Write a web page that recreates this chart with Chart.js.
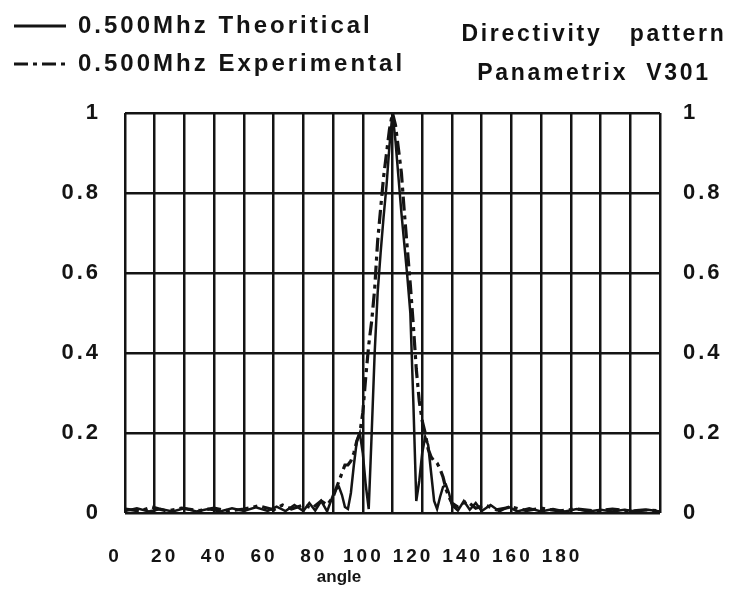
<!DOCTYPE html>
<html>
<head>
<meta charset="utf-8">
<title>Directivity pattern</title>
<script src="https://cdn.jsdelivr.net/npm/chart.js@4.4.1/dist/chart.umd.min.js"></script>
<style>
html, body { margin: 0; padding: 0; background: #fff; }
#wrap { position: relative; width: 732px; height: 596px; }
#heading {
	position: absolute; left: 455px; top: 14px; width: 278px;
	text-align: center; white-space: pre; color: #111;
	font: bold 23px "Liberation Sans", Arial, sans-serif;
	letter-spacing: 2.7px; line-height: 39px;
}
</style>
</head>
<body>
<div id="wrap">
	<canvas id="directivityChart" width="732" height="596"></canvas>
	<div id="heading">Directivity   pattern
Panametrix  V301</div>
</div>
<script>
var angleTicks = [0, 20, 40, 60, 80, 100, 120, 140, 160, 180];
var levelTicks = [0, 0.2, 0.4, 0.6, 0.8, 1];

// 0.500Mhz Theoritical (solid)
var theoAngles = [0, 4, 8, 12, 16, 20, 24, 28, 32, 36, 40, 44, 48, 51, 54, 57, 60, 62, 64, 66, 68,
	70, 71, 72, 73, 74, 75, 76, 77, 78, 79, 80, 81, 82, 83, 84, 85, 86, 87, 88, 89,
	90, 91, 92, 93, 94, 95, 96, 97, 98, 99, 100, 101, 102, 103, 104, 105, 106, 107, 108, 109, 110,
	112, 114, 116, 118, 120, 123, 126, 129, 132, 136, 140, 144, 148, 152, 156, 160, 164, 168, 172, 176, 180];
var theoValues = [0.005, 0.012, 0.004, 0.01, 0.004, 0.012, 0.004, 0.01, 0.004, 0.012, 0.005, 0.014, 0.005, 0.016, 0.005, 0.02, 0.005, 0.025, 0.006, 0.03, 0.004,
	0.045, 0.06, 0.065, 0.045, 0.015, 0.01, 0.05, 0.12, 0.18, 0.2, 0.15, 0.07, 0.01, 0.2, 0.4, 0.55, 0.65, 0.74, 0.82, 0.92,
	1.0, 0.93, 0.84, 0.75, 0.67, 0.59, 0.5, 0.28, 0.03, 0.08, 0.15, 0.19, 0.17, 0.1, 0.03, 0.01, 0.04, 0.065, 0.07, 0.05, 0.02,
	0.006, 0.03, 0.008, 0.025, 0.005, 0.02, 0.004, 0.015, 0.004, 0.012, 0.004, 0.01, 0.004, 0.01, 0.004, 0.008, 0.004, 0.008, 0.004, 0.008, 0.004];

// 0.500Mhz Experimental (dash dot)
var expAngles = [0, 5, 9, 14, 19, 25, 30, 35, 40, 45, 50, 53, 56, 60, 63, 66, 68,
	70, 71, 72, 73, 74, 75, 76, 77, 78, 79, 80, 81, 82, 83, 84, 85, 86, 87, 88, 89,
	90, 91, 92, 93, 94, 95, 96, 97, 98, 99, 100, 101, 102, 103, 104, 105, 106, 107, 108, 109, 110,
	112, 115, 118, 121, 125, 130, 135, 140, 146, 152, 158, 164, 170, 175, 180];
var expValues = [0.01, 0.005, 0.015, 0.005, 0.012, 0.006, 0.012, 0.005, 0.01, 0.018, 0.008, 0.02, 0.01, 0.02, 0.012, 0.03, 0.02,
	0.04, 0.06, 0.08, 0.1, 0.12, 0.12, 0.13, 0.15, 0.18, 0.2, 0.25, 0.34, 0.42, 0.48, 0.56, 0.68, 0.76, 0.84, 0.9, 0.96,
	1.0, 0.97, 0.91, 0.85, 0.75, 0.66, 0.57, 0.47, 0.36, 0.28, 0.23, 0.2, 0.16, 0.14, 0.13, 0.125, 0.11, 0.09, 0.06, 0.04, 0.025,
	0.015, 0.03, 0.012, 0.02, 0.008, 0.015, 0.006, 0.012, 0.005, 0.01, 0.005, 0.01, 0.005, 0.008, 0.005];

var fontFamily = '"Liberation Sans", Arial, sans-serif';
var ink = '#141414';

var toPoints = function(xs, ys){
	var pts = [];
	for(var i=0; i<xs.length; i++){
		pts.push({x: xs[i], y: ys[i]});
	}
	return pts;
}

var useTicks = function(list){
	return function(scale){
		scale.ticks = list.map(function(v){ return {value: v}; });
	};
}

var plainNumber = function(v){
	return '' + v;
}

// legend samples keep the dataset dash
var legendLabels = function(chart){
	var items = Chart.defaults.plugins.legend.labels.generateLabels(chart);
	items.forEach(function(it){
		var ds = chart.data.datasets[it.datasetIndex];
		it.lineDash = ds.borderDash || [];
		it.lineWidth = 3;
		it.strokeStyle = ink;
	});
	return items;
}

// wide tracking like the plotter font; axis title is drawn after the datasets without it
var trackingPlugin = {
	id: 'tracking',
	beforeLayout: function(chart){ chart.ctx.letterSpacing = '3px'; },
	afterLayout: function(chart){
		// the original centres "angle" under its tick labels, not under the grid
		var s = chart.scales.x2;
		s.right = 2 * 339 - s.left;
	},
	beforeDraw: function(chart){ chart.ctx.letterSpacing = '3px'; },
	afterDatasetsDraw: function(chart){ chart.ctx.letterSpacing = '0px'; }
};

var drawDirectivityChart = function(id){
	var ctx = document.getElementById(id).getContext('2d');
	return new Chart(ctx, {
		type: 'line',
		data: {
			datasets: [
				{
					label: '0.500Mhz Theoritical',
					data: toPoints(theoAngles, theoValues),
					borderColor: ink,
					backgroundColor: ink,
					borderWidth: 2.5,
					pointRadius: 0,
					tension: 0,
					xAxisID: 'x',
					yAxisID: 'y'
				},
				{
					label: '0.500Mhz Experimental',
					data: toPoints(expAngles, expValues),
					borderColor: ink,
					backgroundColor: ink,
					borderWidth: 3.2,
					borderDash: [14, 5, 4, 5],
					pointRadius: 0,
					tension: 0,
					xAxisID: 'x',
					yAxisID: 'y'
				}
			]
		},
		options: {
			responsive: false,
			animation: false,
			layout: { padding: 0 },
			plugins: {
				tooltip: { enabled: false },
				legend: {
					position: 'top',
					align: 'start',
					labels: {
						usePointStyle: true,
						pointStyle: 'line',
						pointStyleWidth: 52,
						padding: 14,
						color: ink,
						generateLabels: legendLabels,
						font: { family: fontFamily, size: 24, weight: 'bold' }
					}
				},
				subtitle: {
					display: true,
					text: ' ',
					position: 'top',
					weight: 500,
					padding: 0,
					font: { size: 10, lineHeight: '27px' }
				}
			},
			scales: {
				x: {
					type: 'linear',
					position: 'bottom',
					min: 0,
					max: 180,
					ticks: { display: false, stepSize: 10 },
					grid: { color: ink, lineWidth: 2.5, drawTicks: false },
					border: { display: false },
					afterFit: function(s){ s.height = 0; }
				},
				x2: {
					type: 'linear',
					position: 'bottom',
					min: 0,
					max: 215.4,
					afterBuildTicks: useTicks(angleTicks),
					ticks: {
						color: ink,
						padding: 32,
						labelOffset: -10,
						maxRotation: 0,
						autoSkip: false,
						callback: plainNumber,
						font: { family: fontFamily, size: 19, weight: 'bold' }
					},
					grid: { display: false, drawTicks: false, z: 1 },
					border: { display: false },
					title: {
						display: true,
						text: 'angle',
						color: ink,
						padding: { top: 0, bottom: 8 },
						font: { family: fontFamily, size: 17, weight: 'bold' }
					},
					afterFit: function(s){ s.height = 83; }
				},
				y: {
					type: 'linear',
					position: 'left',
					min: 0,
					max: 1,
					afterBuildTicks: useTicks(levelTicks),
					ticks: {
						color: ink,
						padding: 24,
						callback: plainNumber,
						font: { family: fontFamily, size: 22, weight: 'bold' }
					},
					grid: { color: ink, lineWidth: 2.5, drawTicks: false },
					border: { display: false },
					afterFit: function(s){ s.width = 125; }
				},
				y2: {
					type: 'linear',
					position: 'right',
					min: 0,
					max: 1,
					afterBuildTicks: useTicks(levelTicks),
					ticks: {
						color: ink,
						padding: 23,
						callback: plainNumber,
						font: { family: fontFamily, size: 22, weight: 'bold' }
					},
					grid: { display: false, drawTicks: false },
					border: { display: false },
					afterFit: function(s){ s.width = 72; }
				}
			}
		},
		plugins: [trackingPlugin]
	});
}

drawDirectivityChart('directivityChart');
</script>
</body>
</html>
